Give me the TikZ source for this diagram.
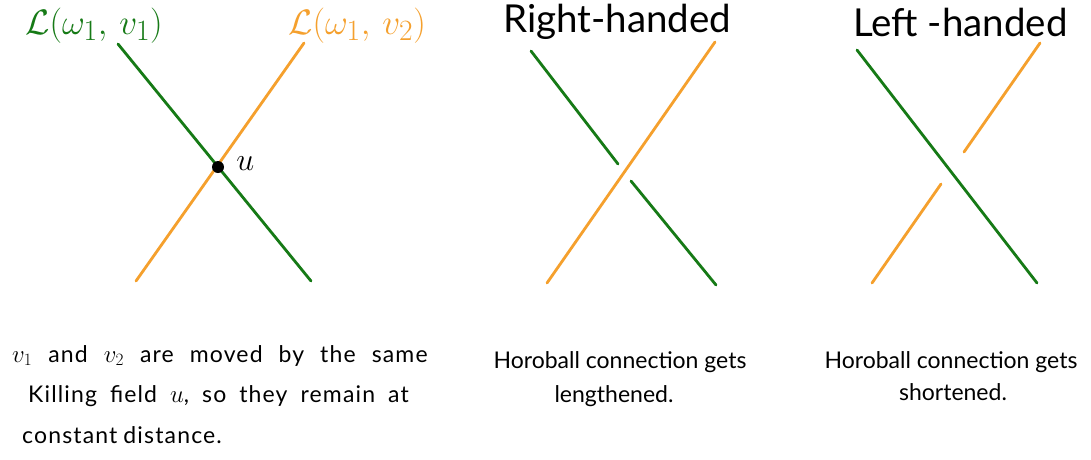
\documentclass[tikz,border=0pt]{standalone}
\usepackage{fontspec}
\setmainfont{Lato}
\newfontfamily\widefont[LetterSpace=5]{Lato}
\definecolor{hgreen}{RGB}{22,122,22}
\definecolor{horange}{RGB}{245,160,45}
\newlength{\myspace}
\tikzset{
  gline/.style={hgreen,line width=2.8pt,line cap=round},
  oline/.style={horange,line width=2.8pt,line cap=round},
  body/.style={font=\fontsize{23}{27}\selectfont,anchor=base west,inner sep=0pt},
  wide/.style={font=\widefont\fontsize{23}{27}\selectfont,anchor=base west,inner sep=0pt,
    execute at begin node={\setlength{\myspace}{#1}\spaceskip=\myspace\relax}},
  titletext/.style={font=\fontsize{38.5}{44}\selectfont,anchor=base west,inner sep=0pt},
  mlabel/.style={font=\fontsize{24.88}{30}\selectfont,scale=1.42,anchor=base west,inner sep=0pt}
}
\begin{document}
\begin{tikzpicture}[x=1pt,y=-1pt]
\useasboundingbox[fill=white] (0,0) rectangle (1091,459);

% left diagram
\coordinate (g1a) at (118,44);
\coordinate (g1b) at (311,281);
\coordinate (o1a) at (136,281);
\coordinate (o1b) at (304,43);
\draw[gline] (g1a) -- (g1b);
\draw[oline] (o1a) -- (o1b);
\node[circle,fill=black,inner sep=0pt,minimum size=12pt] (dot) at (218,167) {};
\node[font=\fontsize{24.88}{30}\selectfont,scale=1.29,anchor=west,inner sep=0pt] (ulab) at (236,164) {$u$};
\node[mlabel,text=hgreen] (lab1) at (25,34) {$\mathcal{L}(\omega_1,\,v_1)$};
\node[mlabel,text=horange] (lab2) at (288,34) {$\mathcal{L}(\omega_1,\,v_2)$};

% middle diagram
\node[titletext] (tright) at (503,32) {Right-handed};
\coordinate (g2a) at (531,51);
\coordinate (g2b) at (618,164);
\coordinate (g2c) at (631,181);
\coordinate (g2d) at (716,285);
\coordinate (o2a) at (547,283);
\coordinate (o2b) at (715,42);
\draw[gline] (g2a) -- (g2b);
\draw[gline] (g2c) -- (g2d);
\draw[oline] (o2a) -- (o2b);

% right diagram
\node[titletext] (tleft) at (853,36) {Left -handed};
\coordinate (g3a) at (857,50);
\coordinate (g3b) at (1037,283);
\coordinate (o3a) at (1040,43);
\coordinate (o3b) at (964,152);
\coordinate (o3c) at (941,184);
\coordinate (o3d) at (872,283);
\draw[gline] (g3a) -- (g3b);
\draw[oline] (o3a) -- (o3b);
\draw[oline] (o3c) -- (o3d);

% captions
\node[wide=16pt] (c1) at (12,362) {$v_1$ and $v_2$ are moved by the same};
\node[wide=13pt] (c2) at (28,402) {Killing field $u$, so they remain at};
\node[wide=6pt] (c3) at (22,443) {constant distance.};
\node[body,anchor=base] (c4) at (620,368) {Horoball connection gets};
\node[body,anchor=base] (c5) at (614,402) {lengthened.};
\node[body,anchor=base] (c6) at (951,368) {Horoball connection gets};
\node[body,anchor=base] (c7) at (953,400) {shortened.};
\end{tikzpicture}
\end{document}
